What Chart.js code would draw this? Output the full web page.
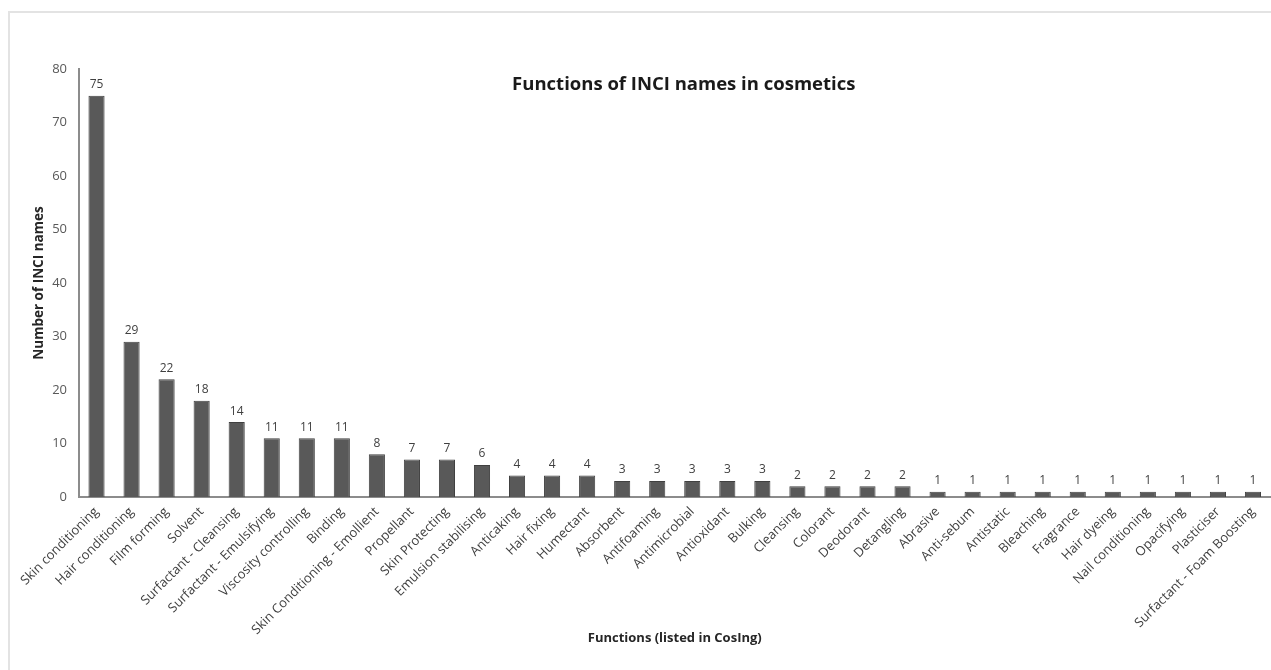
<!DOCTYPE html>
<html>
<head>
<meta charset="utf-8">
<script src="https://cdn.jsdelivr.net/npm/chart.js@4"></script>
<style>
    html, body { margin: 0; padding: 0; background: #fff; }
    #wrap { position: relative; width: 1271px; height: 670px; overflow: hidden; }
    #frame { position: absolute; left: 8px; top: 11px; width: 1300px; height: 700px; border: 2px solid #e3e3e3; box-sizing: border-box; }
    #chart { position: absolute; left: 0; top: 0; }
</style>
</head>
<body>
<div id="wrap">
    <div id="frame"></div>
    <canvas id="chart" width="1271" height="670"></canvas>
</div>
<script>
// Functions and counts
const functionNames = [
    'Skin conditioning', 'Hair conditioning', 'Film forming', 'Solvent',
    'Surfactant - Cleansing', 'Surfactant - Emulsifying', 'Viscosity controlling', 'Binding',
    'Skin Conditioning - Emollient', 'Propellant', 'Skin Protecting', 'Emulsion stabilising',
    'Anticaking', 'Hair fixing', 'Humectant', 'Absorbent', 'Antifoaming', 'Antimicrobial',
    'Antioxidant', 'Bulking', 'Cleansing', 'Colorant', 'Deodorant', 'Detangling',
    'Abrasive', 'Anti-sebum', 'Antistatic', 'Bleaching', 'Fragrance', 'Hair dyeing',
    'Nail conditioning', 'Opacifying', 'Plasticiser', 'Surfactant - Foam Boosting'
];
const inciCounts = [
    75, 29, 22, 18, 14, 11, 11, 11, 8, 7, 7, 6, 4, 4, 4, 3, 3, 3, 3, 3,
    2, 2, 2, 2, 1, 1, 1, 1, 1, 1, 1, 1, 1, 1
];
const yTicks = [0, 10, 20, 30, 40, 50, 60, 70, 80];

const FONT = '"Open Sans", "Liberation Sans", sans-serif';

// value labels above each bar + title inside the plot
const barLabels = {
    id: 'barLabels',
    afterDatasetsDraw(chart) {
        const ctx = chart.ctx;
        const meta = chart.getDatasetMeta(0);
        ctx.save();
        ctx.font = '12px ' + FONT;
        ctx.fillStyle = '#404040';
        ctx.textAlign = 'center';
        ctx.textBaseline = 'bottom';
        meta.data.forEach(function(bar, i) {
            ctx.fillText(inciCounts[i], bar.x, bar.y - 5);
        });
        const area = chart.chartArea;
        ctx.font = 'bold 18.5px ' + FONT;
        ctx.fillStyle = '#1a1a1a';
        ctx.textBaseline = 'middle';
        ctx.fillText('Functions of INCI names in cosmetics', (area.left + area.right) / 2 + 9, area.top + 16);
        ctx.restore();
    }
};

const ctx = document.getElementById('chart').getContext('2d');
new Chart(ctx, {
    type: 'bar',
    data: {
        labels: functionNames,
        datasets: [{
            data: inciCounts,
            backgroundColor: '#595959',
            borderColor: '#404040',
            borderWidth: 1,
            barPercentage: 0.46,
            categoryPercentage: 1
        }]
    },
    options: {
        responsive: false,
        animation: false,
        layout: { padding: { left: 27, top: 69, right: 0, bottom: 20 } },
        plugins: {
            legend: { display: false },
            tooltip: { enabled: false }
        },
        scales: {
            x: {
                grid: { display: false, drawTicks: false },
                border: { color: '#8c8c8c', width: 2 },
                ticks: {
                    autoSkip: false,
                    minRotation: 45,
                    maxRotation: 45,
                    padding: 7,
                    color: '#404040',
                    font: { family: FONT, size: 13 }
                },
                title: {
                    display: true,
                    text: 'Functions (listed in CosIng)',
                    color: '#262626',
                    font: { family: FONT, size: 13, weight: 'bold' }
                },
                afterFit(scale) { scale.height = 670 - 20 - 497; }
            },
            y: {
                min: 0,
                max: 80,
                afterBuildTicks(scale) { scale.ticks = yTicks.map(v => ({ value: v })); },
                grid: { display: false, drawTicks: false },
                border: { color: '#8c8c8c', width: 2 },
                ticks: {
                    padding: 12,
                    color: '#595959',
                    font: { family: FONT, size: 13 }
                },
                title: {
                    display: true,
                    text: 'Number of INCI names',
                    color: '#262626',
                    font: { family: FONT, size: 13.5, weight: 'bold' }
                },
                afterFit(scale) { scale.width = 79 - 27; }
            }
        }
    },
    plugins: [barLabels]
});
</script>
</body>
</html>
